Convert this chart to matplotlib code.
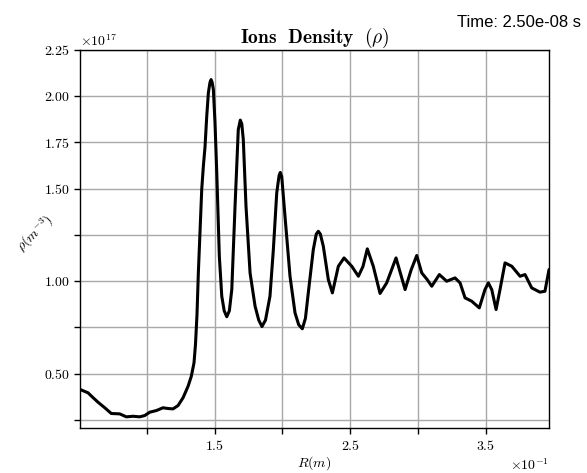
import matplotlib
matplotlib.use("Agg")
import matplotlib.pyplot as plt
from matplotlib.ticker import FixedLocator
import numpy as np

plt.rcParams["font.family"] = "cmr10"
plt.rcParams["mathtext.fontset"] = "cm"
plt.rcParams["axes.unicode_minus"] = False
plt.rcParams["axes.formatter.use_mathtext"] = True

# radius (m) and ion density (1e17 m^-3)
r_m = [
    0.0505, 0.0564, 0.0601, 0.0638, 0.0688, 0.0736, 0.0798, 0.0847, 0.0897,
    0.0946, 0.0983, 0.1020, 0.1069, 0.1118, 0.1155, 0.1192, 0.1229, 0.1266,
    0.1303, 0.1327, 0.1347, 0.1358, 0.1369, 0.1379, 0.1404, 0.1416, 0.1428,
    0.1441, 0.1453, 0.1465, 0.1473, 0.1481, 0.1490, 0.1502, 0.1515, 0.1534,
    0.1552, 0.1570, 0.1589, 0.1608, 0.1626, 0.1650, 0.1674, 0.1689, 0.1700,
    0.1711, 0.1731, 0.1761, 0.1798, 0.1825, 0.1849, 0.1875, 0.1908, 0.1933,
    0.1958, 0.1975, 0.1984, 0.1995, 0.2019, 0.2056, 0.2093, 0.2120, 0.2147,
    0.2170, 0.2191, 0.2228, 0.2250, 0.2265, 0.2280, 0.2302, 0.2339, 0.2369,
    0.2413, 0.2455, 0.2512, 0.2561, 0.2595, 0.2627, 0.2671, 0.2721, 0.2770,
    0.2839, 0.2906, 0.2950, 0.2992, 0.3029, 0.3068, 0.3103, 0.3159, 0.3213,
    0.3275, 0.3312, 0.3349, 0.3398, 0.3454, 0.3496, 0.3521, 0.3546, 0.3578,
    0.3607, 0.3644, 0.3694, 0.3755, 0.3792, 0.3841, 0.3902, 0.3939, 0.3969,
]
density = [
    0.415, 0.397, 0.371, 0.346, 0.316, 0.285, 0.283, 0.267, 0.270,
    0.267, 0.274, 0.292, 0.301, 0.316, 0.312, 0.310, 0.328, 0.370,
    0.432, 0.486, 0.559, 0.660, 0.820, 1.045, 1.496, 1.622, 1.723,
    1.892, 2.018, 2.075, 2.090, 2.075, 2.036, 1.858, 1.587, 1.135,
    0.919, 0.840, 0.808, 0.840, 0.955, 1.405, 1.820, 1.871, 1.850,
    1.766, 1.405, 1.045, 0.865, 0.790, 0.755, 0.790, 0.919, 1.171,
    1.478, 1.570, 1.588, 1.565, 1.351, 1.027, 0.829, 0.765, 0.743,
    0.800, 0.937, 1.171, 1.255, 1.270, 1.255, 1.189, 1.009, 0.937,
    1.081, 1.126, 1.081, 1.027, 1.080, 1.175, 1.081, 0.934, 0.991,
    1.126, 0.955, 1.060, 1.139, 1.045, 1.010, 0.973, 1.036, 1.000,
    1.018, 0.991, 0.910, 0.892, 0.856, 0.955, 0.991, 0.955, 0.847,
    0.955, 1.099, 1.081, 1.027, 1.036, 0.964, 0.941, 0.946, 1.063,
]
scale = 1e17

x_major = [0.15, 0.25, 0.35]
x_minor = [0.10, 0.20, 0.30]
y_major = [0.50, 1.00, 1.50, 1.75, 2.00, 2.25]
y_minor = [0.25, 0.75, 1.25]

fig = plt.figure(figsize=(5.87, 4.73), dpi=100)
ax = fig.add_axes([0.1363, 0.0945, 0.799, 0.7998])

ax.plot(r_m, np.array(density) * scale, color="black", linewidth=2.2,
        solid_joinstyle="round", solid_capstyle="round", zorder=3)

ax.set_xlim(r_m[0], r_m[-1])
ax.set_ylim(0.205 * scale, 2.25 * scale)

ax.xaxis.set_major_locator(FixedLocator(x_major))
ax.xaxis.set_minor_locator(FixedLocator(x_minor))
ax.yaxis.set_major_locator(FixedLocator(np.array(y_major) * scale))
ax.yaxis.set_minor_locator(FixedLocator(np.array(y_minor) * scale))
ax.ticklabel_format(style="sci", scilimits=(0, 0), useMathText=True,
                    useOffset=False)

ax.grid(which="both", color="#a8a8a8", linewidth=1.0, zorder=0)
ax.tick_params(which="both", direction="out", length=4, width=1,
               labelsize=10)
for sp in ax.spines.values():
    sp.set_linewidth(1.0)

ax.set_title(r"$\mathbf{Ions\ \ Density}\ \ (\rho)$", fontsize=14, pad=5)
ax.set_xlabel(r"$R(m)$", fontsize=10, labelpad=1)
ax.set_ylabel(r"$\rho(m^{-3})$", fontsize=10, rotation=45,
              ha="center", va="center")
ax.yaxis.set_label_coords(-0.095, 0.514)

fig.text(0.99, 0.953, "Time: 2.50e-08 s", ha="right", va="center",
         fontsize=12, family="Liberation Sans")

fig.savefig("out.png", dpi=100, facecolor="white")
